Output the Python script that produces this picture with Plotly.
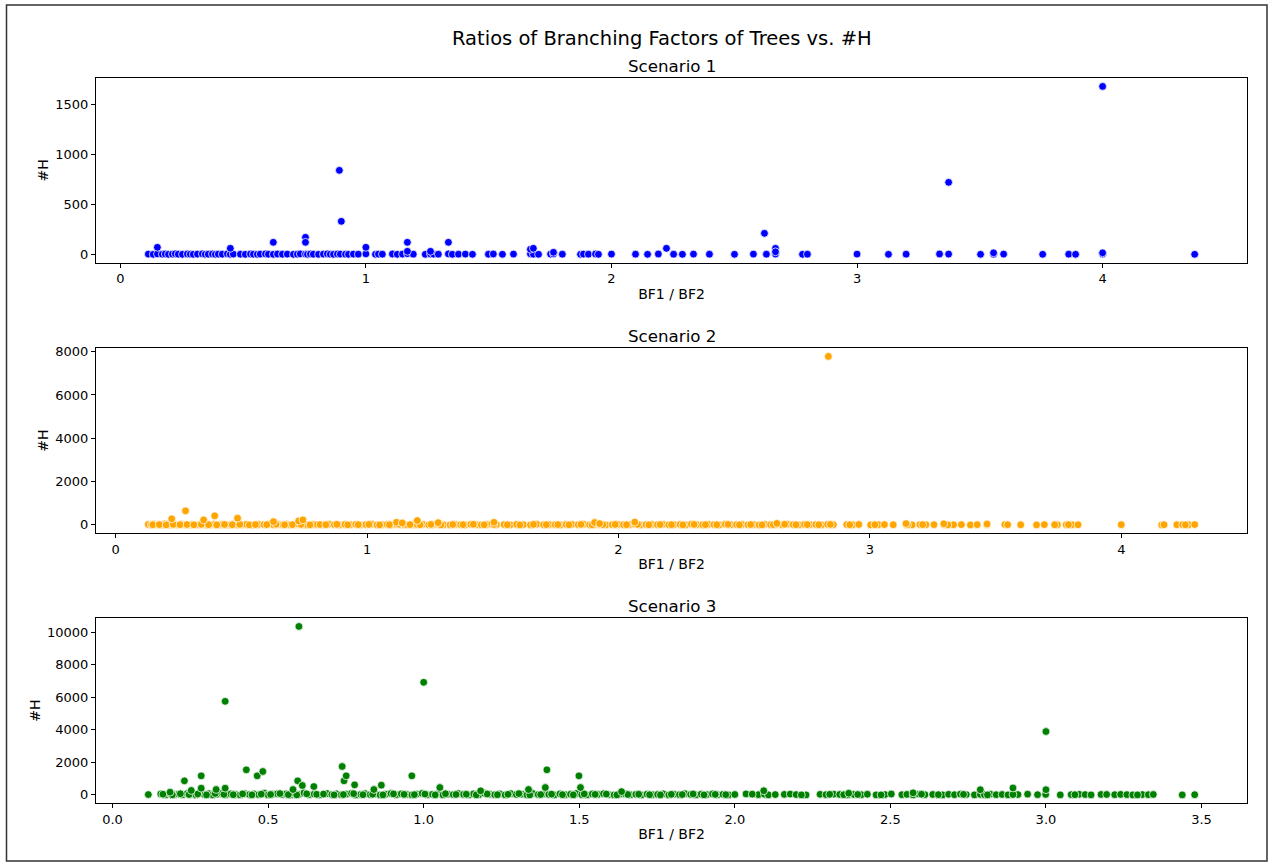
import plotly.graph_objects as go

# ---------------- data ----------------
suptitle = "Ratios of Branching Factors of Trees vs. #H"
panel_titles = ["Scenario 1", "Scenario 2", "Scenario 3"]
x_label = "BF1 / BF2"
y_label = "#H"
colors = ["blue", "orange", "green"]

s1_base_x = [0.114, 0.134, 0.151, 0.171, 0.183, 0.196, 0.212, 0.224, 0.236, 0.253,
             0.273, 0.285, 0.297, 0.314, 0.334, 0.346, 0.358, 0.375, 0.387, 0.399,
             0.415, 0.436, 0.448, 0.460, 0.489, 0.509, 0.530, 0.542, 0.558, 0.570,
             0.591, 0.603, 0.623, 0.640, 0.660, 0.680, 0.705, 0.721, 0.733, 0.754,
             0.762, 0.774, 0.786, 0.807, 0.827, 0.843, 0.855, 0.868, 0.884, 0.896,
             0.917, 0.929, 0.949, 0.969, 1.000, 1.039, 1.051, 1.067, 1.108, 1.128,
             1.149, 1.169, 1.193, 1.242, 1.263, 1.275, 1.295, 1.336, 1.352, 1.377,
             1.405, 1.434, 1.499, 1.519, 1.556, 1.601, 1.670, 1.682, 1.703, 1.752,
             1.764, 1.800, 1.874, 1.886, 1.906, 1.935, 1.947, 2.000, 2.098, 2.147,
             2.191, 2.253, 2.289, 2.334, 2.399, 2.501, 2.578, 2.631, 2.668, 2.778,
             2.798, 3.000, 3.128, 3.200, 3.336, 3.373, 3.503, 3.556, 3.597, 3.756,
             3.862, 3.890, 4.000, 4.375]
s1_base_h = [2, 0, 4, 1, 3, 0, 2, 5, 1, 0,
             3, 1, 0, 2, 4, 0, 1, 3, 0, 2,
             1, 5, 0, 2, 1, 0, 3, 1, 0, 2,
             4, 1, 0, 3, 1, 2, 0, 1, 4, 2,
             0, 3, 1, 0, 2, 5, 1, 0, 3, 2,
             1, 0, 2, 1, 4, 0, 2, 1, 3, 0,
             2, 6, 1, 0, 3, 2, 1, 4, 0, 1,
             2, 0, 1, 3, 0, 2, 5, 1, 0, 2,
             4, 1, 0, 2, 1, 3, 0, 2, 1, 0,
             3, 1, 0, 2, 1, 0, 2, 1, 3, 0,
             1, 2, 0, 1, 3, 2, 0, 1, 2, 0,
             1, 0, 3, 0]
s1_peak_x = [0.151, 0.448, 0.623, 0.754, 0.754, 0.892, 0.900, 1.000, 1.169, 1.169,
             1.263, 1.336, 1.670, 1.682, 1.764, 2.224, 2.623, 2.668, 2.668, 3.373,
             3.556, 4.000, 4.000]
s1_peak_h = [70, 60, 120, 170, 120, 840, 330, 70, 120, 30,
             30, 120, 50, 60, 20, 60, 210, 60, 25, 720,
             15, 1680, 15]

s2_base_x = [0.130, 0.142, 0.155, 0.168, 0.180, 0.195, 0.207, 0.223, 0.236, 0.250,
             0.262, 0.278, 0.290, 0.305, 0.318, 0.332, 0.350, 0.362, 0.378, 0.394,
             0.410, 0.425, 0.441, 0.458, 0.470, 0.485, 0.503, 0.520, 0.545, 0.568,
             0.590, 0.612, 0.628, 0.648, 0.665, 0.680, 0.695, 0.712, 0.728, 0.745,
             0.762, 0.785, 0.802, 0.825, 0.848, 0.870, 0.890, 0.912, 0.935, 0.955,
             0.975, 0.995, 1.018, 1.040, 1.060, 1.080, 1.098, 1.117, 1.140, 1.160,
             1.182, 1.200, 1.222, 1.245, 1.262, 1.283, 1.305, 1.330, 1.352, 1.372,
             1.392, 1.412, 1.435, 1.455, 1.478, 1.495, 1.515, 1.545, 1.570, 1.595,
             1.622, 1.650, 1.675, 1.702, 1.725, 1.748, 1.770, 1.792, 1.815, 1.840,
             1.862, 1.885, 1.905, 1.925, 1.950, 1.975, 1.998, 2.020, 2.045, 2.065,
             2.088, 2.110, 2.132, 2.155, 2.178, 2.200, 2.222, 2.245, 2.268, 2.290,
             2.312, 2.335, 2.358, 2.380, 2.402, 2.425, 2.448, 2.470, 2.492, 2.515,
             2.538, 2.560, 2.582, 2.605, 2.628, 2.650, 2.672, 2.695, 2.718, 2.740,
             2.762, 2.785, 2.808, 2.832, 2.855, 2.908, 2.932, 2.956, 3.003, 3.034,
             3.058, 3.093, 3.144, 3.168, 3.199, 3.223, 3.255, 3.294, 3.333, 3.364,
             3.400, 3.427, 3.466, 3.537, 3.600, 3.663, 3.694, 3.746, 3.781, 3.804,
             3.828, 4.000, 4.161, 4.221, 4.244, 4.268, 4.292]
s2_base_h = [20, 5, 30, 12, 0, 40, 18, 8, 25, 3,
             35, 10, 0, 22, 15, 5, 28, 0, 12, 30,
             8, 20, 0, 15, 35, 5, 10, 25, 0, 18,
             12, 40, 3, 20, 8, 30, 0, 15, 25, 10,
             0, 22, 14, 5, 30, 10, 0, 18, 8, 25,
             3, 12, 28, 0, 15, 20, 5, 30, 10, 0,
             18, 8, 25, 2, 14, 30, 6, 0, 20, 12,
             5, 25, 10, 0, 18, 35, 8, 15, 3, 22,
             12, 0, 28, 6, 16, 10, 0, 20, 25, 8,
             30, 4, 12, 18, 0, 10, 22, 6, 15, 35,
             0, 14, 20, 8, 26, 3, 12, 18, 0, 30,
             10, 5, 22, 15, 0, 28, 8, 12, 20, 4,
             16, 0, 25, 10, 18, 6, 30, 12, 0, 20,
             8, 15, 0, 22, 10, 12, 5, 18, 0, 10,
             14, 6, 20, 0, 12, 8, 10, 15, 5, 12,
             0, 10, 8, 15, 5, 0, 12, 6, 10, 8,
             5, 10, 0, 8, 12, 6, 15]
s2_more_x = [0.148, 0.174, 0.201, 0.229, 0.256, 0.284, 0.311, 0.341, 0.370, 0.402,
             0.433, 0.464, 0.494, 0.532, 0.556, 0.601, 0.638, 0.672, 0.703, 0.737,
             0.773, 0.813, 0.836, 0.880, 0.923, 0.965, 1.007, 1.050, 1.089, 1.128,
             1.171, 1.211, 1.254, 1.294, 1.341, 1.382, 1.423, 1.466, 1.505, 1.558,
             1.608, 1.662, 1.713, 1.759, 1.803, 1.851, 1.895, 1.938, 1.987, 2.032,
             2.076, 2.121, 2.166, 2.211, 2.256, 2.301, 2.346, 2.391, 2.436, 2.481,
             2.526, 2.571, 2.616, 2.661, 2.706, 2.751, 2.797, 2.843, 2.920, 3.020,
             3.150, 3.210, 3.310, 3.548, 3.735, 3.790, 4.170, 4.255]
s2_more_h = [5, 12, 0, 20, 8, 15, 3, 25, 10, 0,
             18, 6, 22, 0, 14, 9, 30, 4, 12, 20,
             0, 16, 8, 24, 2, 11, 19, 0, 7, 28,
             13, 5, 21, 0, 17, 9, 26, 3, 14, 6,
             0, 23, 10, 15, 4, 20, 0, 12, 18, 7,
             25, 2, 14, 9, 0, 19, 11, 6, 22, 3,
             16, 0, 10, 27, 5, 13, 8, 20, 6, 10,
             4, 12, 0, 8, 5, 10, 6, 3]
s2_peak_x = [0.223, 0.278, 0.350, 0.394, 0.485, 0.628, 0.728, 0.745, 1.117, 1.140,
             1.200, 1.283, 1.505, 1.905, 1.925, 2.065, 2.630, 2.835, 3.144, 3.294,
             3.466]
s2_peak_h = [280, 650, 230, 420, 310, 150, 180, 230, 120, 90,
             200, 100, 120, 110, 60, 130, 70, 7780, 60, 50,
             40]

s3_base_x = [0.115, 0.155, 0.170, 0.185, 0.200, 0.212, 0.225, 0.240, 0.253, 0.268,
             0.280, 0.295, 0.310, 0.322, 0.338, 0.352, 0.365, 0.380, 0.395, 0.410,
             0.425, 0.440, 0.455, 0.470, 0.488, 0.500, 0.515, 0.530, 0.545, 0.558,
             0.572, 0.585, 0.600, 0.615, 0.632, 0.648, 0.665, 0.690, 0.705, 0.720,
             0.735, 0.752, 0.768, 0.782, 0.798, 0.812, 0.828, 0.845, 0.860, 0.878,
             0.895, 0.912, 0.928, 0.945, 0.962, 0.978, 0.995, 1.012, 1.028, 1.045,
             1.062, 1.078, 1.095, 1.112, 1.128, 1.145, 1.160, 1.178, 1.195, 1.212,
             1.228, 1.245, 1.262, 1.280, 1.298, 1.315, 1.332, 1.350, 1.368, 1.385,
             1.402, 1.420, 1.438, 1.455, 1.472, 1.490, 1.508, 1.525, 1.542, 1.560,
             1.578, 1.595, 1.612, 1.630, 1.648, 1.665, 1.682, 1.700, 1.718, 1.735,
             1.752, 1.770, 1.788, 1.805, 1.822, 1.840, 1.858, 1.875, 1.892, 1.910,
             1.928, 1.945, 1.962, 1.980, 2.000, 2.036, 2.076, 2.095, 2.108, 2.159,
             2.178, 2.197, 2.229, 2.274, 2.293, 2.318, 2.337, 2.363, 2.382, 2.407,
             2.426, 2.454, 2.483, 2.503, 2.537, 2.553, 2.573, 2.592, 2.611, 2.636,
             2.668, 2.687, 2.706, 2.725, 2.744, 2.770, 2.789, 2.802, 2.821, 2.840,
             2.859, 2.878, 2.910, 2.941, 2.973, 2.999, 3.046, 3.081, 3.107, 3.126,
             3.145, 3.177, 3.221, 3.240, 3.260, 3.279, 3.310, 3.329, 3.345, 3.438,
             3.478]
s3_base_h = [20, 60, 0, 90, 30, 50, 10, 80, 40, 0,
             110, 25, 70, 0, 45, 90, 15, 60, 30, 0,
             80, 20, 55, 10, 100, 0, 40, 70, 25, 60,
             0, 90, 35, 120, 15, 50, 0, 80, 20, 65,
             10, 45, 95, 0, 30, 75, 20, 55, 0, 40,
             85, 15, 60, 25, 0, 50, 90, 10, 35, 70,
             0, 45, 20, 80, 30, 0, 60, 15, 100, 40,
             10, 55, 0, 75, 25, 45, 0, 90, 20, 50,
             30, 0, 65, 15, 40, 80, 10, 0, 55, 25,
             70, 20, 0, 45, 60, 10, 35, 0, 50, 15,
             25, 60, 0, 40, 15, 70, 30, 0, 45, 20,
             55, 10, 35, 0, 25, 60, 15, 40, 0, 30,
             50, 20, 0, 35, 15, 45, 25, 0, 30, 10,
             40, 0, 20, 55, 10, 30, 0, 45, 15, 25,
             0, 35, 10, 50, 20, 0, 30, 15, 40, 10,
             25, 0, 20, 45, 10, 30, 0, 15, 35, 20,
             0, 25, 10, 30, 15, 0, 20, 10, 25, 0,
             10]
s3_more_x = [0.162, 0.192, 0.218, 0.246, 0.274, 0.302, 0.330, 0.358, 0.388, 0.418,
             0.448, 0.478, 0.508, 0.538, 0.565, 0.592, 0.624, 0.656, 0.678, 0.712,
             0.742, 0.775, 0.805, 0.836, 0.869, 0.903, 0.937, 0.970, 1.004, 1.037,
             1.070, 1.104, 1.137, 1.169, 1.204, 1.237, 1.271, 1.306, 1.341, 1.376,
             1.411, 1.446, 1.481, 1.516, 1.551, 1.587, 1.621, 1.656, 1.691, 1.726,
             1.761, 1.796, 1.831, 1.866, 1.901, 1.937, 1.971, 2.056, 2.130, 2.214,
             2.305, 2.350, 2.395, 2.470, 2.600, 2.654, 2.735, 2.812, 2.894, 3.093,
             3.195, 3.294]
s3_more_h = [40, 0, 70, 20, 55, 0, 85, 30, 10, 60,
             0, 45, 25, 80, 15, 0, 65, 35, 50, 0,
             20, 75, 10, 40, 0, 60, 30, 15, 50, 0,
             70, 25, 40, 0, 55, 10, 35, 80, 0, 20,
             45, 15, 0, 60, 30, 50, 0, 25, 40, 10,
             0, 35, 20, 55, 0, 30, 15, 45, 20, 0,
             35, 10, 25, 0, 40, 15, 30, 0, 20, 10,
             25, 0]
s3_peak_x = [0.185, 0.231, 0.253, 0.285, 0.285, 0.333, 0.362, 0.362, 0.430, 0.465,
             0.483, 0.580, 0.595, 0.599, 0.610, 0.647, 0.738, 0.744, 0.751, 0.778,
             0.840, 0.864, 0.962, 1.000, 1.052, 1.183, 1.337, 1.391, 1.396, 1.499,
             1.504, 1.636, 2.093, 2.366, 2.573, 2.789, 2.894, 3.000, 3.000]
s3_peak_h = [165, 864, 270, 1173, 411, 330, 5760, 411, 1543, 1173,
             1440, 330, 864, 10370, 576, 514, 1749, 864, 1173, 617,
             330, 597, 1173, 6930, 453, 250, 330, 453, 1543, 1173,
             453, 200, 254, 100, 127, 318, 424, 3900, 318]

x_dticks = [1, 1, 0.5]
y_dticks = [500, 2000, 2000]
x_formats = ["d", "d", ".1f"]

# ---------------- layout geometry (pixels) ----------------
W, H = 1273, 866
AX_LEFT, AX_RIGHT = 96, 1247
AX_TOPS = [78, 348, 618]
AX_BOTTOMS = [262.7, 533.3, 803.3]
FONT = "DejaVu Sans"

def fx(p):
    return p / W

def fy(p):
    return 1 - p / H

series = [
    (s1_base_x + s1_peak_x, s1_base_h + s1_peak_h),
    (s2_base_x + s2_more_x + s2_peak_x, s2_base_h + s2_more_h + s2_peak_h),
    (s3_base_x + s3_more_x + s3_peak_x, s3_base_h + s3_more_h + s3_peak_h),
]

fig = go.Figure()
annotations = []
layout_axes = {}
for i, (xs, ys) in enumerate(series):
    n = "" if i == 0 else str(i + 1)
    fig.add_trace(go.Scatter(
        x=xs, y=ys, mode="markers",
        xaxis="x" + n, yaxis="y" + n,
        marker=dict(color=colors[i], size=7.8,
                    line=dict(color="white", width=0.75)),
        showlegend=False, hoverinfo="x+y",
    ))
    xmin, xmax = min(xs), max(xs)
    ymin, ymax = min(ys), max(ys)
    xm = 0.05 * (xmax - xmin)
    ym = 0.05 * (ymax - ymin)
    common = dict(
        showline=True, mirror=True, linecolor="black", linewidth=1,
        ticks="outside", ticklen=4, tickwidth=1, tickcolor="black",
        showgrid=False, zeroline=False, automargin=False,
        tickfont=dict(family=FONT, size=13, color="black"),
    )
    layout_axes["xaxis" + n] = dict(
        common,
        domain=[fx(AX_LEFT), fx(AX_RIGHT)],
        anchor="y" + n,
        range=[xmin - xm, xmax + xm],
        tick0=0, dtick=x_dticks[i], tickformat=x_formats[i],
        title=dict(text=x_label, font=dict(family=FONT, size=14, color="black"), standoff=3),
    )
    layout_axes["yaxis" + n] = dict(
        common,
        domain=[fy(AX_BOTTOMS[i]), fy(AX_TOPS[i])],
        anchor="x" + n,
        range=[ymin - ym, ymax + ym],
        tick0=0, dtick=y_dticks[i], tickformat="d",
        title=dict(text=y_label, font=dict(family=FONT, size=14, color="black"), standoff=3),
    )
    annotations.append(dict(
        text=panel_titles[i], xref="paper", yref="paper",
        x=fx((AX_LEFT + AX_RIGHT) / 2), y=fy(AX_TOPS[i] - 12),
        xanchor="center", yanchor="middle", showarrow=False,
        font=dict(family=FONT, size=16.7, color="black"),
    ))

annotations.append(dict(
    text=suptitle, xref="paper", yref="paper",
    x=fx(662), y=fy(38), xanchor="center", yanchor="middle", showarrow=False,
    font=dict(family=FONT, size=19.5, color="black"),
))

fig.update_layout(
    width=W, height=H,
    margin=dict(l=0, r=0, t=0, b=0, autoexpand=False),
    paper_bgcolor="white", plot_bgcolor="white",
    annotations=annotations,
    shapes=[dict(type="rect", xref="paper", yref="paper",
                 x0=fx(6.5), x1=fx(1267), y0=fy(861), y1=fy(5),
                 line=dict(color="#333333", width=1.5), fillcolor="rgba(0,0,0,0)")],
    **layout_axes,
)

fig.write_html("out.html", config={"displayModeBar": False},
               post_script="document.body.style.margin='0';document.body.style.overflow='hidden';")
